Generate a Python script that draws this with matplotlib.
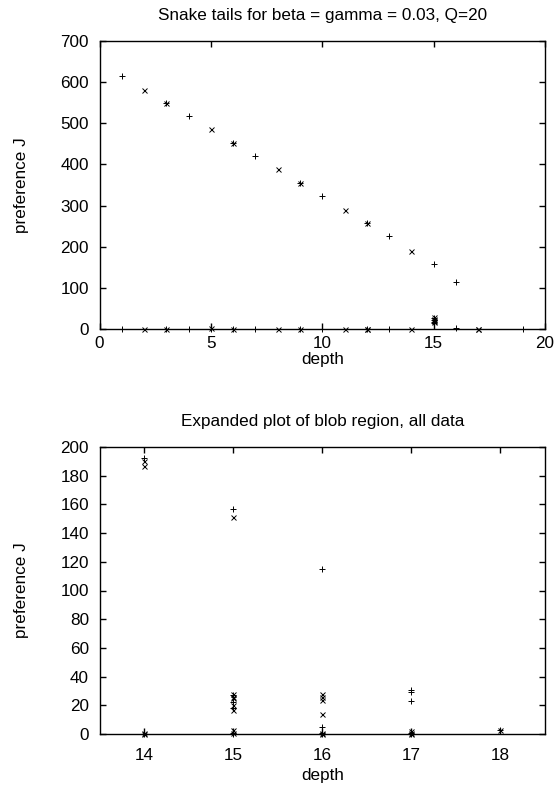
import numpy as np
from matplotlib import pyplot as plt

plt.rcParams['font.family'] = ['Liberation Sans', 'DejaVu Sans']

# top panel: snake tails, series drawn with '+'
tail_plus_depth = [1, 3, 4, 6, 7, 9, 10, 12, 13, 15, 16,
                   1, 3, 4, 5, 6, 7, 9, 10, 12, 13, 15, 15, 15, 15, 16, 19]
tail_plus_J = [615, 550, 517, 452, 420, 355, 323, 258, 225, 157, 115,
               0, 0, 0, 0, 0, 0, 0, 0, 0, 0, 27, 22, 18, 14, 3, 0]
# top panel: series drawn with 'x'
tail_cross_depth = [2, 3, 5, 6, 8, 9, 11, 12, 14,
                    2, 3, 5, 6, 8, 9, 11, 12, 12, 14, 15, 15, 15, 15, 17, 17]
tail_cross_J = [582, 550, 485, 452, 388, 355, 290, 258, 190,
                0, 0, 2, 0, 0, 0, 0, 0, 1, 0, 28, 25, 20, 16, 0, 1]

# bottom panel: blob region, all data
blob_plus_depth = [14, 14, 15, 15, 15, 15, 15, 15, 16, 16, 16, 16, 17, 17, 17, 17, 17, 18]
blob_plus_J = [192, 0, 157, 27, 22, 18, 1, 0, 115, 5, 1, 0, 31, 29, 23, 1, 0, 3]
blob_cross_depth = [14, 14, 14, 14, 15, 15, 15, 15, 15, 15, 15, 15,
                    16, 16, 16, 16, 16, 16, 17, 17, 17, 18]
blob_cross_J = [190, 187, 1, 0, 151, 28, 26, 25, 20, 17, 3, 1,
                28, 26, 24, 14, 1, 0, 2, 1, 0, 3]

W, H = 560, 798
fig = plt.figure(figsize=(W / 100, H / 100), dpi=100)
fs = 12.3

def panel(top, bottom, title, pd, pj, cd, cj, xlim, ylim, xticks, yticks, xpad, xlpad):
    ax = fig.add_axes([99.5 / W, 1 - bottom / H, 445.5 / W, (bottom - top) / H])
    ax.plot(pd, pj, '+', color='black', ms=4.6, mew=0.7, clip_on=False)
    ax.plot(cd, cj, 'x', color='black', ms=3.6, mew=0.7, clip_on=False)
    ax.set_xlim(*xlim)
    ax.set_ylim(*ylim)
    ax.set_xticks(xticks)
    ax.set_yticks(yticks)
    ax.tick_params(direction='in', top=True, right=True, length=4, width=1,
                   labelsize=fs, pad=7.5)
    ax.tick_params(axis='x', pad=xpad)
    for s in ax.spines.values():
        s.set_linewidth(1)
    ax.set_title(title, fontsize=fs, pad=15)
    ax.set_xlabel('depth', fontsize=fs, labelpad=xlpad)
    ax.set_ylabel('preference J', fontsize=fs, labelpad=23)
    return ax

panel(41, 329, 'Snake tails for beta = gamma = 0.03, Q=20',
      tail_plus_depth, tail_plus_J, tail_cross_depth, tail_cross_J,
      (0, 20), (0, 700), range(0, 21, 5), range(0, 701, 100), 5, 0.5)
panel(447, 734, 'Expanded plot of blob region, all data',
      blob_plus_depth, blob_plus_J, blob_cross_depth, blob_cross_J,
      (13.5, 18.5), (0, 200), range(14, 19), range(0, 201, 20), 10, 4)

fig.savefig('out.png', dpi=100)
